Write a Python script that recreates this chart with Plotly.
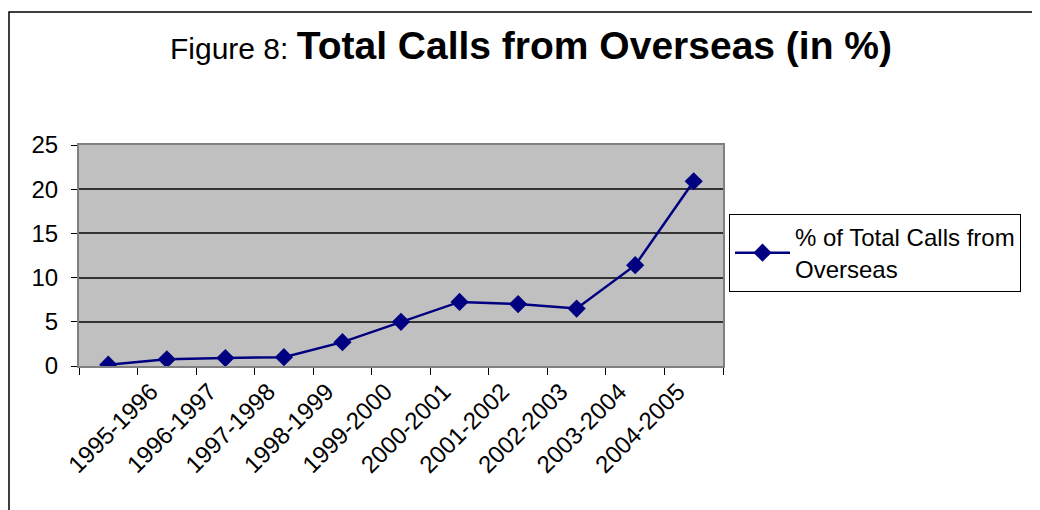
import plotly.graph_objects as go

# Data (11 points; the first slot carries no label in the reference)
categories = ["", "1995-1996", "1996-1997", "1997-1998", "1998-1999", "1999-2000",
              "2000-2001", "2001-2002", "2002-2003", "2003-2004", "2004-2005"]
values = [0.15, 0.75, 0.9, 1.0, 2.7, 5.0, 7.25, 7.0, 6.5, 11.4, 20.9]
series_name = "% of Total Calls from<br>Overseas"
y_ticks = [0, 5, 10, 15, 20, 25]

slots = list(range(len(values)))
label_pos = [s - 0.27 for s in slots]          # rotated labels sit slightly left
boundaries = [s - 0.5 for s in slots] + [len(slots) - 0.5]

W, H = 1040, 510
OFF = 8                                         # page body margin
L, R, T, B = 79 - OFF, 723 - OFF, 145 - OFF, 366 - OFF
pw, ph = R - L, B - T

def px_x(x):
    return (x - OFF - L) / pw

def px_y(y):
    return (B - (y - OFF)) / ph

fig = go.Figure()
fig.add_trace(go.Scatter(
    x=slots, y=values, mode="lines+markers", name=series_name,
    line=dict(color="#000080", width=2.5),
    marker=dict(symbol="diamond", size=14, color="#000080"),
))

fig.update_layout(
    width=W, height=H,
    margin=dict(l=L, r=W - R, t=T, b=H - B, autoexpand=False),
    paper_bgcolor="white",
    plot_bgcolor="#C0C0C0",
    font=dict(family="Liberation Sans, Arial", color="black", size=22),
    title=dict(
        text='<span style="font-size:30px">Figure 8: </span><b>Total Calls from Overseas (in %)</b>',
        font=dict(size=39, family="Liberation Sans, Arial", color="black"),
        x=(531 - OFF) / W, xref="container", xanchor="center",
        y=1 - (47 - OFF - 2) / H, yref="container", yanchor="middle",
    ),
    showlegend=True,
    legend=dict(
        x=px_x(729), y=px_y(214), xanchor="left", yanchor="top",
        bgcolor="white", bordercolor="black", borderwidth=1,
        font=dict(size=24, family="Liberation Sans, Arial", color="black"),
        itemwidth=55, tracegroupgap=0,
    ),
    xaxis=dict(
        range=[-0.5, len(values) - 0.5],
        tickmode="array", tickvals=label_pos, ticktext=categories,
        tickangle=-45, ticks="", ticklen=0,
        minor=dict(tickmode="array", tickvals=boundaries, ticks="outside",
                   ticklen=7, tickcolor="black", tickwidth=1, showgrid=False),
        showgrid=False, zeroline=False,
        showline=True, linecolor="#808080", linewidth=2, mirror=True,
        tickfont=dict(size=24),
    ),
    yaxis=dict(
        range=[0, 25], tickmode="array", tickvals=y_ticks,
        ticks="outside", ticklen=6, tickcolor="black",
        ticklabelstandoff=8,
        showgrid=True, gridcolor="#333333", gridwidth=1.5,
        zeroline=False,
        showline=True, linecolor="#808080", linewidth=2, mirror=True,
        tickfont=dict(size=24),
    ),
    shapes=[dict(
        type="rect", xref="paper", yref="paper",
        x0=px_x(9), x1=px_x(1060), y0=px_y(530), y1=px_y(12),
        line=dict(color="black", width=1.5), fillcolor="rgba(0,0,0,0)",
        layer="below",
    )],
)

fig.write_html("out.html")
